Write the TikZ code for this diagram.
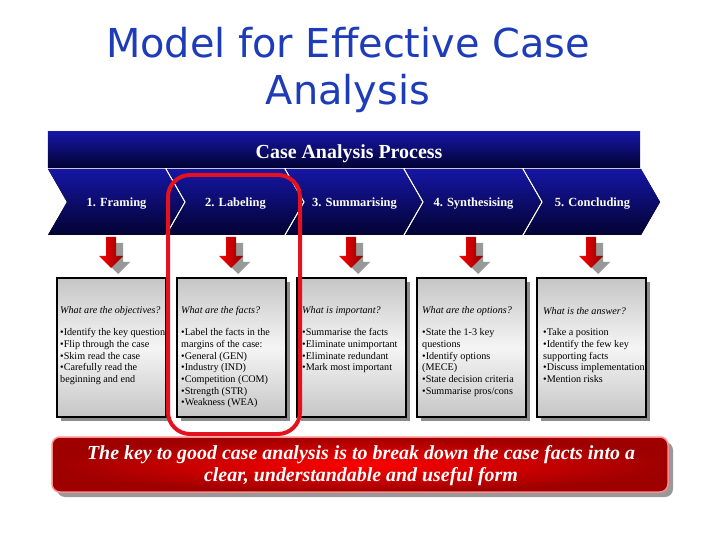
\documentclass[tikz,border=0pt]{standalone}
\usepackage{fontspec}
\setmainfont{Liberation Serif}
\newfontfamily\titlefont{DejaVu Sans}
\usetikzlibrary{shadows}
\definecolor{titleblue}{RGB}{30,60,185}
\definecolor{navytop}{RGB}{22,22,165}
\definecolor{navybot}{RGB}{2,2,50}
\definecolor{hlred}{RGB}{228,18,30}
\definecolor{boxgray}{RGB}{198,198,198}
\begin{document}
\begin{tikzpicture}[x=1bp,y=-1bp,
  band/.style={top color=navytop, bottom color=navybot, minimum width=592bp, minimum height=36bp, inner sep=0pt},
  bandlabel/.style={text=white, font=\bfseries\fontsize{20}{22}\selectfont, inner sep=0pt},
  chevfill/.style={top color=navytop, bottom color=navybot, draw=none},
  chevlabel/.style={text=white, font=\bfseries\fontsize{12.5}{14}\selectfont, inner sep=0pt},
  infobox/.style={draw=black, line width=1.6bp, minimum width=109bp, minimum height=139bp, inner sep=0pt,
    top color=boxgray, bottom color=boxgray, middle color=white!96!black,
    drop shadow={shadow xshift=4bp, shadow yshift=-4bp, fill=black!45, opacity=1}},
  question/.style={font=\itshape\fontsize{10.2}{11.7}\selectfont, anchor=west, inner sep=0pt},
  bullets/.style={font=\fontsize{10.2}{11.7}\selectfont, anchor=north west, align=left, inner sep=0pt},
  blockarrow/.pic={
    \fill[black!40] (-5+7,237+6) -- (5+7,237+6) -- (5+7,256+6) -- (12+7,256+6) -- (0+7,268+6) -- (-12+7,256+6) -- (-5+7,256+6) -- cycle;
    \shade[left color=red!100, right color=red!55!black] (-5,237) -- (5,237) -- (5,256) -- (12,256) -- (0,268) -- (-12,256) -- (-5,256) -- cycle;
  }
]
\useasboundingbox (0,0) rectangle (720,540);

% title
\node[font=\titlefont\fontsize{40}{48}\selectfont, text=titleblue, align=center, inner sep=0pt] (title) at (348,70) {Model for Effective Case\\Analysis};

% band
\node[band] (band) at (344,150) {};
\node[bandlabel] (bandtext) at (349,154) {Case Analysis Process};
\draw[white, line width=1bp] (48,168.5) -- (640,168.5);

% chevrons
\foreach \i/\lab in {1/{1. Framing},2/{2. Labeling},3/{3. Summarising},4/{4. Synthesising},5/{5. Concluding}}{
  \pgfmathsetmacro\L{48+119*(\i-1)}
  \pgfmathsetmacro\R{\L+117}
  \fill[chevfill] (\L,169) -- (\R,169) -- (\R+19,202) -- (\R,235) -- (\L,235) -- (\L+19,202) -- cycle;
  \node[chevlabel] (c\i) at ({(\L+\R)/2+10},204) {\lab};
}

% arrows and boxes
\foreach \i in {1,...,5}{
  \pgfmathsetmacro\BL{57+120*(\i-1)}
  \pic at ({\BL+54},0) {blockarrow};
  \node[infobox] (b\i) at ({\BL+54.5},347.5) {};
}

% box texts
\node[question] (q1) at (60,311) {What are the objectives?};
\node[bullets] (t1) at (60,328.5) {\textbullet Identify the key question\\\textbullet Flip through the case\\\textbullet Skim read the case\\\textbullet Carefully read the\\beginning and end};

\node[question] (q2) at (181,311) {What are the facts?};
\node[bullets] (t2) at (181,328.5) {\textbullet Label the facts in the\\margins of the case:\\\textbullet General (GEN)\\\textbullet Industry (IND)\\\textbullet Competition (COM)\\\textbullet Strength (STR)\\\textbullet Weakness (WEA)};

\node[question] (q3) at (302,311) {What is important?};
\node[bullets] (t3) at (302,328.5) {\textbullet Summarise the facts\\\textbullet Eliminate unimportant\\\textbullet Eliminate redundant\\\textbullet Mark most important};

\node[question] (q4) at (422,311) {What are the options?};
\node[bullets] (t4) at (422,328.5) {\textbullet State the 1-3 key\\questions\\\textbullet Identify options\\(MECE)\\\textbullet State decision criteria\\\textbullet Summarise pros/cons};

\node[question] (q5) at (543,311) {What is the answer?};
\node[bullets] (t5) at (543,328.5) {\textbullet Take a position\\\textbullet Identify the few key\\supporting facts\\\textbullet Discuss implementation\\\textbullet Mention risks};

% highlight
\draw[hlred, line width=4bp, rounded corners=22bp] (168,175) rectangle (300,434);

% bottom banner
\fill[black!40, rounded corners=8bp] (57,442) rectangle (673,497);
\shade[inner color=red, outer color=red!62!black, rounded corners=8bp] (52,437) rectangle (668,492);
\draw[red!45!white, line width=1.5bp, rounded corners=8bp] (52,437) rectangle (668,492);
\node[text=white, font=\bfseries\itshape\fontsize{20}{22}\selectfont, align=center, inner sep=0pt] (key) at (361,466) {The key to good case analysis is to break down the case facts into a\\clear, understandable and useful form};
\end{tikzpicture}
\end{document}
